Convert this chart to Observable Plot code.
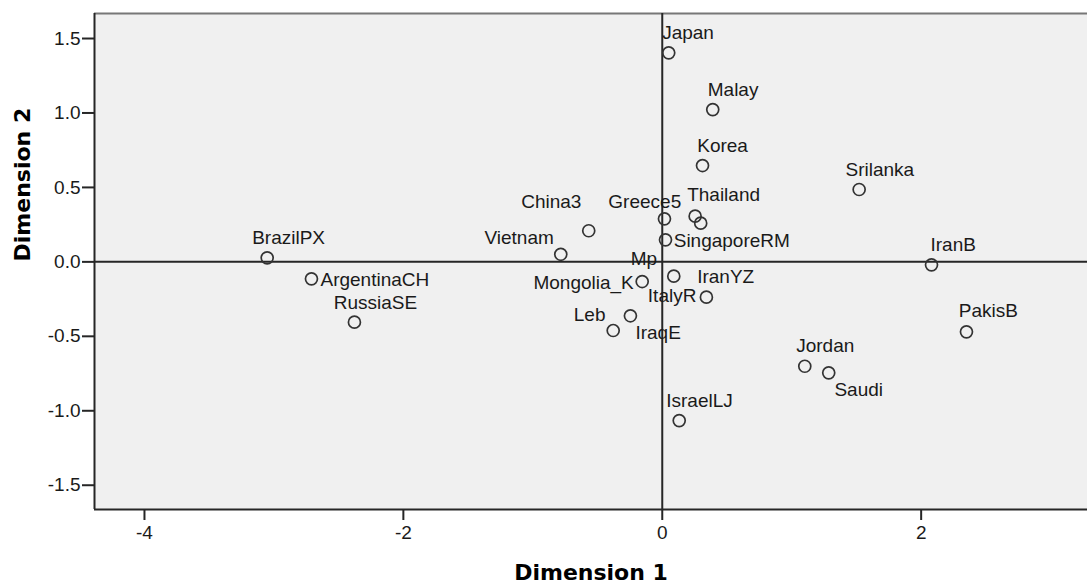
<!DOCTYPE html>
<html>
<head>
<meta charset="utf-8">
<script src="https://cdn.jsdelivr.net/npm/d3@7"></script>
<script src="https://cdn.jsdelivr.net/npm/@observablehq/plot@0.6"></script>
<style>
  html, body { margin: 0; padding: 0; background: #fff; }
</style>
</head>
<body>
<div id="chart"></div>
<script>
// ---- data ----
const names = ["Japan","Malay","Korea","Srilanka","IranB","PakisB","Jordan","Saudi","IsraelLJ",
  "China3","Vietnam","Greece5","Thailand","SingaporeRM","Mp","IranYZ","Mongolia_K","ItalyR",
  "Leb","IraqE","BrazilPX","ArgentinaCH","RussiaSE"];
const dim1 = [0.050, 0.390, 0.311, 1.521, 2.080, 2.350, 1.101, 1.286, 0.131,
  -0.568, -0.784, 0.017, 0.254, 0.297, 0.025, 0.089, -0.155, 0.341,
  -0.379, -0.246, -3.052, -2.710, -2.378];
const dim2 = [1.404, 1.023, 0.647, 0.486, -0.020, -0.470, -0.701, -0.745, -1.066,
  0.209, 0.051, 0.289, 0.307, 0.260, 0.148, -0.096, -0.132, -0.237,
  -0.461, -0.362, 0.027, -0.114, -0.405];
const xTicks = [-4, -2, 0, 2];
const yTicks = [-1.5, -1.0, -0.5, 0.0, 0.5, 1.0, 1.5];
const xTitle = "Dimension 1";
const yTitle = "Dimension 2";

// ---- style: label placement (anchor, dx, dy in px) ----
const labelStyle = {
  Japan: ["start", -6.6, -19.6], Malay: ["start", -5, -19.7], Korea: ["start", -5.3, -20],
  Srilanka: ["start", -13.7, -19.7], IranB: ["start", -1, -20], PakisB: ["start", -7.7, -20.6],
  Jordan: ["start", -8.6, -20.7], Saudi: ["start", 5.7, 17], IsraelLJ: ["start", -13, -19.3],
  China3: ["end", -7.3, -28.6], Vietnam: ["end", -7, -16.4], Greece5: ["middle", -19.7, -16.6],
  Thailand: ["start", -8, -21.7], SingaporeRM: ["start", -27, 17.3], Mp: ["end", -8.3, 19],
  IranYZ: ["start", 23.4, 1], Mongolia_K: ["end", -8.4, 1.3], ItalyR: ["end", -10, -1],
  Leb: ["end", -7.7, -16], IraqE: ["start", 5, 17.4], BrazilPX: ["start", -15, -20],
  ArgentinaCH: ["start", 9, 0.7], RussiaSE: ["start", -20.7, -19.4]
};

const idx = d3.range(names.length);
const xDomain = [-4.386, 3.285];
const yDomain = [-1.663, 1.668];
const ink = "#262626";
const labelFont = "'Liberation Sans', Arial, sans-serif";

const labelMarks = idx.map(i => {
  const [anchor, dx, dy] = labelStyle[names[i]];
  return Plot.text([i], {
    x: j => dim1[j], y: j => dim2[j], text: j => names[j],
    textAnchor: anchor, dx, dy, fill: "#1a1a1a", fontSize: 19, fontFamily: labelFont
  });
});

const chart = Plot.plot({
  width: 1087,
  height: 586,
  marginLeft: 94,
  marginRight: 0,
  marginTop: 13,
  marginBottom: 77,
  style: { fontFamily: labelFont, fontSize: "19px", background: "#fff", color: ink },
  x: { domain: xDomain },
  y: { domain: yDomain },
  marks: [
    Plot.frame({ fill: "#f0f0f0", stroke: null }),
    Plot.ruleY([yDomain[1]], { stroke: "#777", strokeWidth: 2 }),
    Plot.ruleY([yDomain[0]], { stroke: ink, strokeWidth: 2 }),
    Plot.ruleX([xDomain[0]], { stroke: ink, strokeWidth: 2 }),
    Plot.ruleX([0], { stroke: ink, strokeWidth: 2 }),
    Plot.ruleY([0], { stroke: ink, strokeWidth: 2 }),
    Plot.axisX({ ticks: xTicks, tickSize: 11, tickPadding: 5, label: null, tickFormat: d => String(d),
      stroke: ink, strokeWidth: 2, fill: "#1a1a1a" }),
    Plot.axisY({ ticks: yTicks, tickSize: 12, tickPadding: 2, label: null, tickFormat: d => d.toFixed(1),
      stroke: ink, strokeWidth: 2, fill: "#1a1a1a" }),
    Plot.dot(idx, { x: i => dim1[i], y: i => dim2[i], r: 6, stroke: "#333", strokeWidth: 1.7, fill: "none" }),
    ...labelMarks,
    Plot.text([xTitle], { frameAnchor: "bottom", dy: 70, text: d => d, fontWeight: "bold", fontSize: 22,
      fontFamily: "'DejaVu Sans', sans-serif", fill: "#000" }),
    Plot.text([yTitle], { frameAnchor: "left", dx: -72, rotate: -90, text: d => d, fontWeight: "bold", fontSize: 22,
      fontFamily: "'DejaVu Sans', sans-serif", fill: "#000" })
  ]
});
document.getElementById("chart").appendChild(chart);
</script>
</body>
</html>
